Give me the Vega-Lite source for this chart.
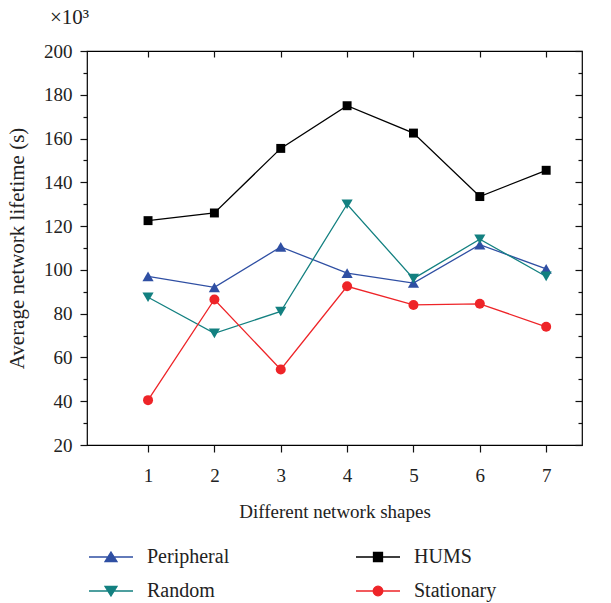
{
  "$schema": "https://vega.github.io/schema/vega-lite/v6.json",
  "width": 495,
  "height": 394,
  "autosize": {"type": "none"},
  "padding": {"left": 87, "top": 51, "right": 29, "bottom": 158},
  "background": "white",
  "config": {
    "view": {"stroke": "black", "strokeWidth": 1.2},
    "font": "Liberation Serif",
    "axis": {
      "labelFont": "Liberation Serif", "labelFontSize": 19, "labelColor": "#222",
      "titleFont": "Liberation Serif", "titleFontSize": 19, "titleFontWeight": "normal", "titleColor": "#222",
      "tickColor": "#111", "tickWidth": 1.2, "domain": false, "grid": false
    },
    "legend": {"labelFont": "Liberation Serif", "labelFontSize": 20, "labelColor": "#222"}
  },
  "title": {"text": "×10³", "anchor": "start", "frame": "group", "dx": -37, "offset": 14, "fontSize": 21, "fontWeight": "normal", "font": "Liberation Serif", "color": "#222"},
  "data": {"values": [
    {"shape": 1, "series": "Peripheral", "lifetime": 97},
    {"shape": 2, "series": "Peripheral", "lifetime": 92},
    {"shape": 3, "series": "Peripheral", "lifetime": 110.5},
    {"shape": 4, "series": "Peripheral", "lifetime": 98.5},
    {"shape": 5, "series": "Peripheral", "lifetime": 94},
    {"shape": 6, "series": "Peripheral", "lifetime": 111.5},
    {"shape": 7, "series": "Peripheral", "lifetime": 100.5},
    {"shape": 1, "series": "HUMS", "lifetime": 122.5},
    {"shape": 2, "series": "HUMS", "lifetime": 126},
    {"shape": 3, "series": "HUMS", "lifetime": 155.5},
    {"shape": 4, "series": "HUMS", "lifetime": 175},
    {"shape": 5, "series": "HUMS", "lifetime": 162.5},
    {"shape": 6, "series": "HUMS", "lifetime": 133.5},
    {"shape": 7, "series": "HUMS", "lifetime": 145.5},
    {"shape": 1, "series": "Random", "lifetime": 87.5},
    {"shape": 2, "series": "Random", "lifetime": 71},
    {"shape": 3, "series": "Random", "lifetime": 81},
    {"shape": 4, "series": "Random", "lifetime": 130},
    {"shape": 5, "series": "Random", "lifetime": 96},
    {"shape": 6, "series": "Random", "lifetime": 114},
    {"shape": 7, "series": "Random", "lifetime": 97},
    {"shape": 1, "series": "Stationary", "lifetime": 40.5},
    {"shape": 2, "series": "Stationary", "lifetime": 86.5},
    {"shape": 3, "series": "Stationary", "lifetime": 54.5},
    {"shape": 4, "series": "Stationary", "lifetime": 92.5},
    {"shape": 5, "series": "Stationary", "lifetime": 84},
    {"shape": 6, "series": "Stationary", "lifetime": 84.5},
    {"shape": 7, "series": "Stationary", "lifetime": 74}
  ]},
  "resolve": {"axis": {"x": "independent", "y": "independent"}},
  "layer": [
    {
      "mark": {"type": "line", "strokeWidth": 1.3},
      "encoding": {
        "x": {"field": "shape", "type": "quantitative", "scale": {"domain": [0.08, 7.54], "nice": false, "zero": false},
              "axis": {"orient": "bottom", "values": [1,2,3,4,5,6,7], "tickSize": 7, "labelPadding": 14, "title": "Different network shapes", "titlePadding": 17}},
        "y": {"field": "lifetime", "type": "quantitative", "scale": {"domain": [20, 200], "nice": false, "zero": false},
              "axis": {"orient": "left", "values": [20,40,60,80,100,120,140,160,180,200], "tickSize": 7, "labelPadding": 8, "title": "Average network lifetime (s)", "titlePadding": 16, "titleFontSize": 21}},
        "color": {"field": "series", "type": "nominal",
                  "scale": {"domain": ["Peripheral", "Random", "HUMS", "Stationary"], "range": ["#2f4fa3", "#138080", "#000000", "#ee2428"]},
                  "legend": {"orient": "none", "legendX": 13, "legendY": 495, "columns": 2, "title": null, "symbolSize": 400, "labelOffset": 25, "columnPadding": 123, "rowPadding": 13, "padding": 0,
                    "encode": {"symbols": {"update": {
                      "shape": {"signal": "datum.value === 'Peripheral' ? 'M-2.2,0H2.2M0,-0.5L0.6,0.45H-0.6Z' : datum.value === 'Random' ? 'M-2.2,0H2.2M0,0.5L0.6,-0.45H-0.6Z' : datum.value === 'HUMS' ? 'M-2.2,0H2.2M-0.45,-0.45H0.45V0.45H-0.45Z' : 'M-2.2,0H2.2M0.48,0A0.48,0.48 0 1,1 -0.48,0A0.48,0.48 0 1,1 0.48,0Z'"},
                      "fill": {"scale": "color", "field": "value"},
                      "stroke": {"scale": "color", "field": "value"},
                      "strokeWidth": {"value": 1.3},
                      "fillOpacity": {"value": 1},
                      "opacity": {"value": 1}
                    }}}}}
      }
    },
    {
      "transform": [{"filter": "datum.series === 'Peripheral'"}],
      "mark": {"type": "point", "filled": true, "opacity": 1, "size": 125, "shape": "triangle-up"},
      "encoding": {
        "x": {"field": "shape", "type": "quantitative", "axis": {"orient": "top", "values": [1,2,3,4,5,6,7], "tickSize": -6, "labels": false, "title": null}},
        "y": {"field": "lifetime", "type": "quantitative", "axis": {"orient": "right", "values": [20,40,60,80,100,120,140,160,180,200], "tickSize": -7, "labels": false, "title": null}},
        "color": {"field": "series", "type": "nominal", "legend": null}
      }
    },
    {
      "transform": [{"filter": "datum.series === 'Random'"}],
      "mark": {"type": "point", "filled": true, "opacity": 1, "size": 125, "shape": "triangle-down"},
      "encoding": {
        "x": {"field": "shape", "type": "quantitative", "axis": null},
        "y": {"field": "lifetime", "type": "quantitative", "axis": {"orient": "left", "values": [30,50,70,90,110,130,150,170,190], "tickSize": 4, "labels": false, "title": null}},
        "color": {"field": "series", "type": "nominal", "legend": null}
      }
    },
    {
      "transform": [{"filter": "datum.series === 'HUMS'"}],
      "mark": {"type": "point", "filled": true, "opacity": 1, "size": 80, "shape": "square"},
      "encoding": {
        "x": {"field": "shape", "type": "quantitative", "axis": null},
        "y": {"field": "lifetime", "type": "quantitative", "axis": {"orient": "right", "values": [30,50,70,90,110,130,150,170,190], "tickSize": -4, "labels": false, "title": null}},
        "color": {"field": "series", "type": "nominal", "legend": null}
      }
    },
    {
      "transform": [{"filter": "datum.series === 'Stationary'"}],
      "mark": {"type": "point", "filled": true, "opacity": 1, "size": 100, "shape": "circle"},
      "encoding": {
        "x": {"field": "shape", "type": "quantitative", "axis": null},
        "y": {"field": "lifetime", "type": "quantitative", "axis": null},
        "color": {"field": "series", "type": "nominal", "legend": null}
      }
    }
  ]
}
